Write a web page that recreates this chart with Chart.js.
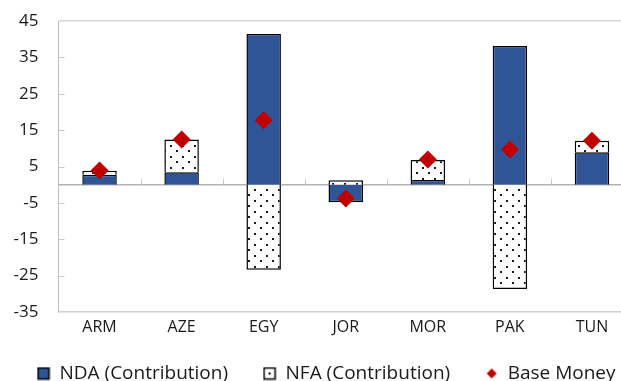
<!DOCTYPE html>
<html lang="en">
<head>
  <meta charset="UTF-8">
  <title>NDA / NFA contributions to base money</title>
  <script src="https://cdn.jsdelivr.net/npm/chart.js"></script>
  <style>
    html, body {
      margin: 0;
      padding: 0;
      background: #fff;
    }
  </style>
</head>
<body>
  <canvas id="moneyChart" width="621" height="381"></canvas>

  <script>
    const countries = ['ARM', 'AZE', 'EGY', 'JOR', 'MOR', 'PAK', 'TUN'];
    const ndaContribution = [2.7, 3.4, 41.4, -4.8, 1.3, 38.1, 8.9];
    const nfaContribution = [1.1, 9.0, -23.4, 1.2, 5.5, -28.7, 3.2];
    const baseMoney = [3.9, 12.4, 17.7, -3.8, 6.9, 9.7, 12.1];
    const yTicks = [-35, -25, -15, -5, 5, 15, 25, 35, 45];

    // dotted fill for the NFA bars
    function dotPattern() {
      const tile = document.createElement('canvas');
      tile.width = 12;
      tile.height = 11;
      const t = tile.getContext('2d');
      t.fillStyle = '#fff';
      t.fillRect(0, 0, 12, 11);
      t.fillStyle = '#1a1a1a';
      t.fillRect(2, 2, 2, 2);
      t.fillRect(8, 7, 2, 2);
      return t.createPattern(tile, 'repeat');
    }

    // small icons for the legend (Excel style)
    function legendIcon(kind) {
      const c = document.createElement('canvas');
      c.width = 14;
      c.height = 14;
      const g = c.getContext('2d');
      if (kind === 'diamond') {
        g.fillStyle = '#c00000';
        g.beginPath();
        g.moveTo(7, 2);
        g.lineTo(12, 7);
        g.lineTo(7, 12);
        g.lineTo(2, 7);
        g.closePath();
        g.fill();
      } else {
        g.fillStyle = kind === 'nda' ? '#2f5597' : '#fff';
        g.fillRect(1, 1, 12, 12);
        g.strokeStyle = '#000';
        g.lineWidth = 1.5;
        g.strokeRect(1.5, 1.5, 11, 11);
        if (kind === 'nfa') {
          g.fillStyle = '#000';
          g.fillRect(6, 6, 2, 2);
        }
      }
      return c;
    }
    const legendIcons = [legendIcon('nda'), legendIcon('nfa'), legendIcon('diamond')];

    // the original is cropped: its plot area runs ~12px past the right edge.
    // also give the x labels room so they are not clipped by the thin axis box.
    const widenPlot = {
      id: 'widenPlot',
      afterLayout(chart) {
        const extra = 12;
        const area = chart.chartArea;
        area.right += extra;
        area.width += extra;
        const x = chart.scales.x;
        x.right = area.right;
        x.width = area.width;
        x.bottom = x.top + 34;
        x.height = 34;
        x.configure();
      }
    };

    // zero line, tick marks between categories and inside y ticks
    const axisMarks = {
      id: 'axisMarks',
      beforeDatasetsDraw(chart) {
        const { ctx, chartArea, scales: { x, y } } = chart;
        const y0 = y.getPixelForValue(0);
        ctx.save();
        ctx.strokeStyle = '#b4b4b4';
        ctx.lineWidth = 1.5;
        ctx.beginPath();
        ctx.moveTo(chartArea.left, y0);
        ctx.lineTo(chartArea.right, y0);
        ctx.stroke();
        ctx.lineWidth = 1;
        ctx.strokeStyle = '#c8c8c8';
        ctx.beginPath();
        for (let i = 1; i < countries.length; i++) {
          const px = Math.round((x.getPixelForValue(i - 1) + x.getPixelForValue(i)) / 2) + 0.5;
          ctx.moveTo(px, y0);
          ctx.lineTo(px, y0 - 6);
        }
        y.ticks.forEach(tk => {
          if (tk.value === 45 || tk.value === -35) return;
          const py = Math.round(y.getPixelForValue(tk.value)) + 0.5;
          ctx.moveTo(chartArea.left, py);
          ctx.lineTo(chartArea.left + 6, py);
        });
        ctx.stroke();
        ctx.restore();
      }
    };

    Chart.defaults.font.family = "'Open Sans', sans-serif";
    Chart.defaults.color = '#1a1a1a';

    const ctx = document.getElementById('moneyChart').getContext('2d');

    new Chart(ctx, {
      type: 'bar',
      data: {
        labels: countries,
        datasets: [
          {
            label: 'NDA (Contribution)',
            data: ndaContribution,
            backgroundColor: '#2f5597',
            borderColor: '#000',
            borderWidth: 1.5,
            stack: 'money',
            order: 1
          },
          {
            label: 'NFA (Contribution)',
            data: nfaContribution,
            backgroundColor: dotPattern(),
            borderColor: '#000',
            borderWidth: 1.5,
            stack: 'money',
            order: 1
          },
          {
            type: 'line',
            label: 'Base Money',
            data: baseMoney,
            showLine: false,
            stack: 'bm',
            order: 0,
            pointStyle: 'rectRot',
            pointRadius: 9,
            pointHoverRadius: 9,
            backgroundColor: '#c00000',
            pointBackgroundColor: '#c00000',
            borderColor: '#c00000',
            borderWidth: 0
          }
        ]
      },
      options: {
        responsive: false,
        animation: false,
        layout: {
          autoPadding: false,
          padding: { top: 21, right: -30, left: 2, bottom: -12 }
        },
        datasets: {
          bar: {
            categoryPercentage: 1,
            barPercentage: 0.42
          }
        },
        plugins: {
          tooltip: { enabled: false },
          legend: {
            position: 'bottom',
            align: 'start',
            labels: {
              usePointStyle: true,
              boxWidth: 13,
              boxHeight: 13,
              padding: 35,
              font: { size: 19 },
              sort: (a, b) => a.datasetIndex - b.datasetIndex,
              generateLabels(chart) {
                const items = Chart.defaults.plugins.legend.labels.generateLabels(chart);
                items.forEach(it => { it.pointStyle = legendIcons[it.datasetIndex]; });
                return items;
              }
            }
          }
        },
        scales: {
          x: {
            stacked: true,
            grid: { display: false, drawTicks: false },
            border: { display: true, color: '#d0d0d0', width: 1.5 },
            ticks: { font: { size: 16 }, padding: 6 },
            afterFit(scale) {
              scale.height = 17;
            }
          },
          y: {
            stacked: true,
            min: -35,
            max: 45,
            afterBuildTicks(scale) {
              scale.ticks = yTicks.map(v => ({ value: v }));
            },
            grid: {
              drawTicks: true,
              tickLength: 16,
              tickColor: 'rgba(0,0,0,0)',
              color: c => (c.tick && c.tick.value === 45 ? '#d9d9d9' : 'rgba(0,0,0,0)'),
              lineWidth: 1.5
            },
            border: { display: true, color: '#bfbfbf', width: 1 },
            ticks: { font: { size: 17 }, padding: 4 },
            afterFit(scale) {
              scale.width = 56.5;
            }
          }
        }
      },
      plugins: [widenPlot, axisMarks]
    });
  </script>
</body>
</html>
